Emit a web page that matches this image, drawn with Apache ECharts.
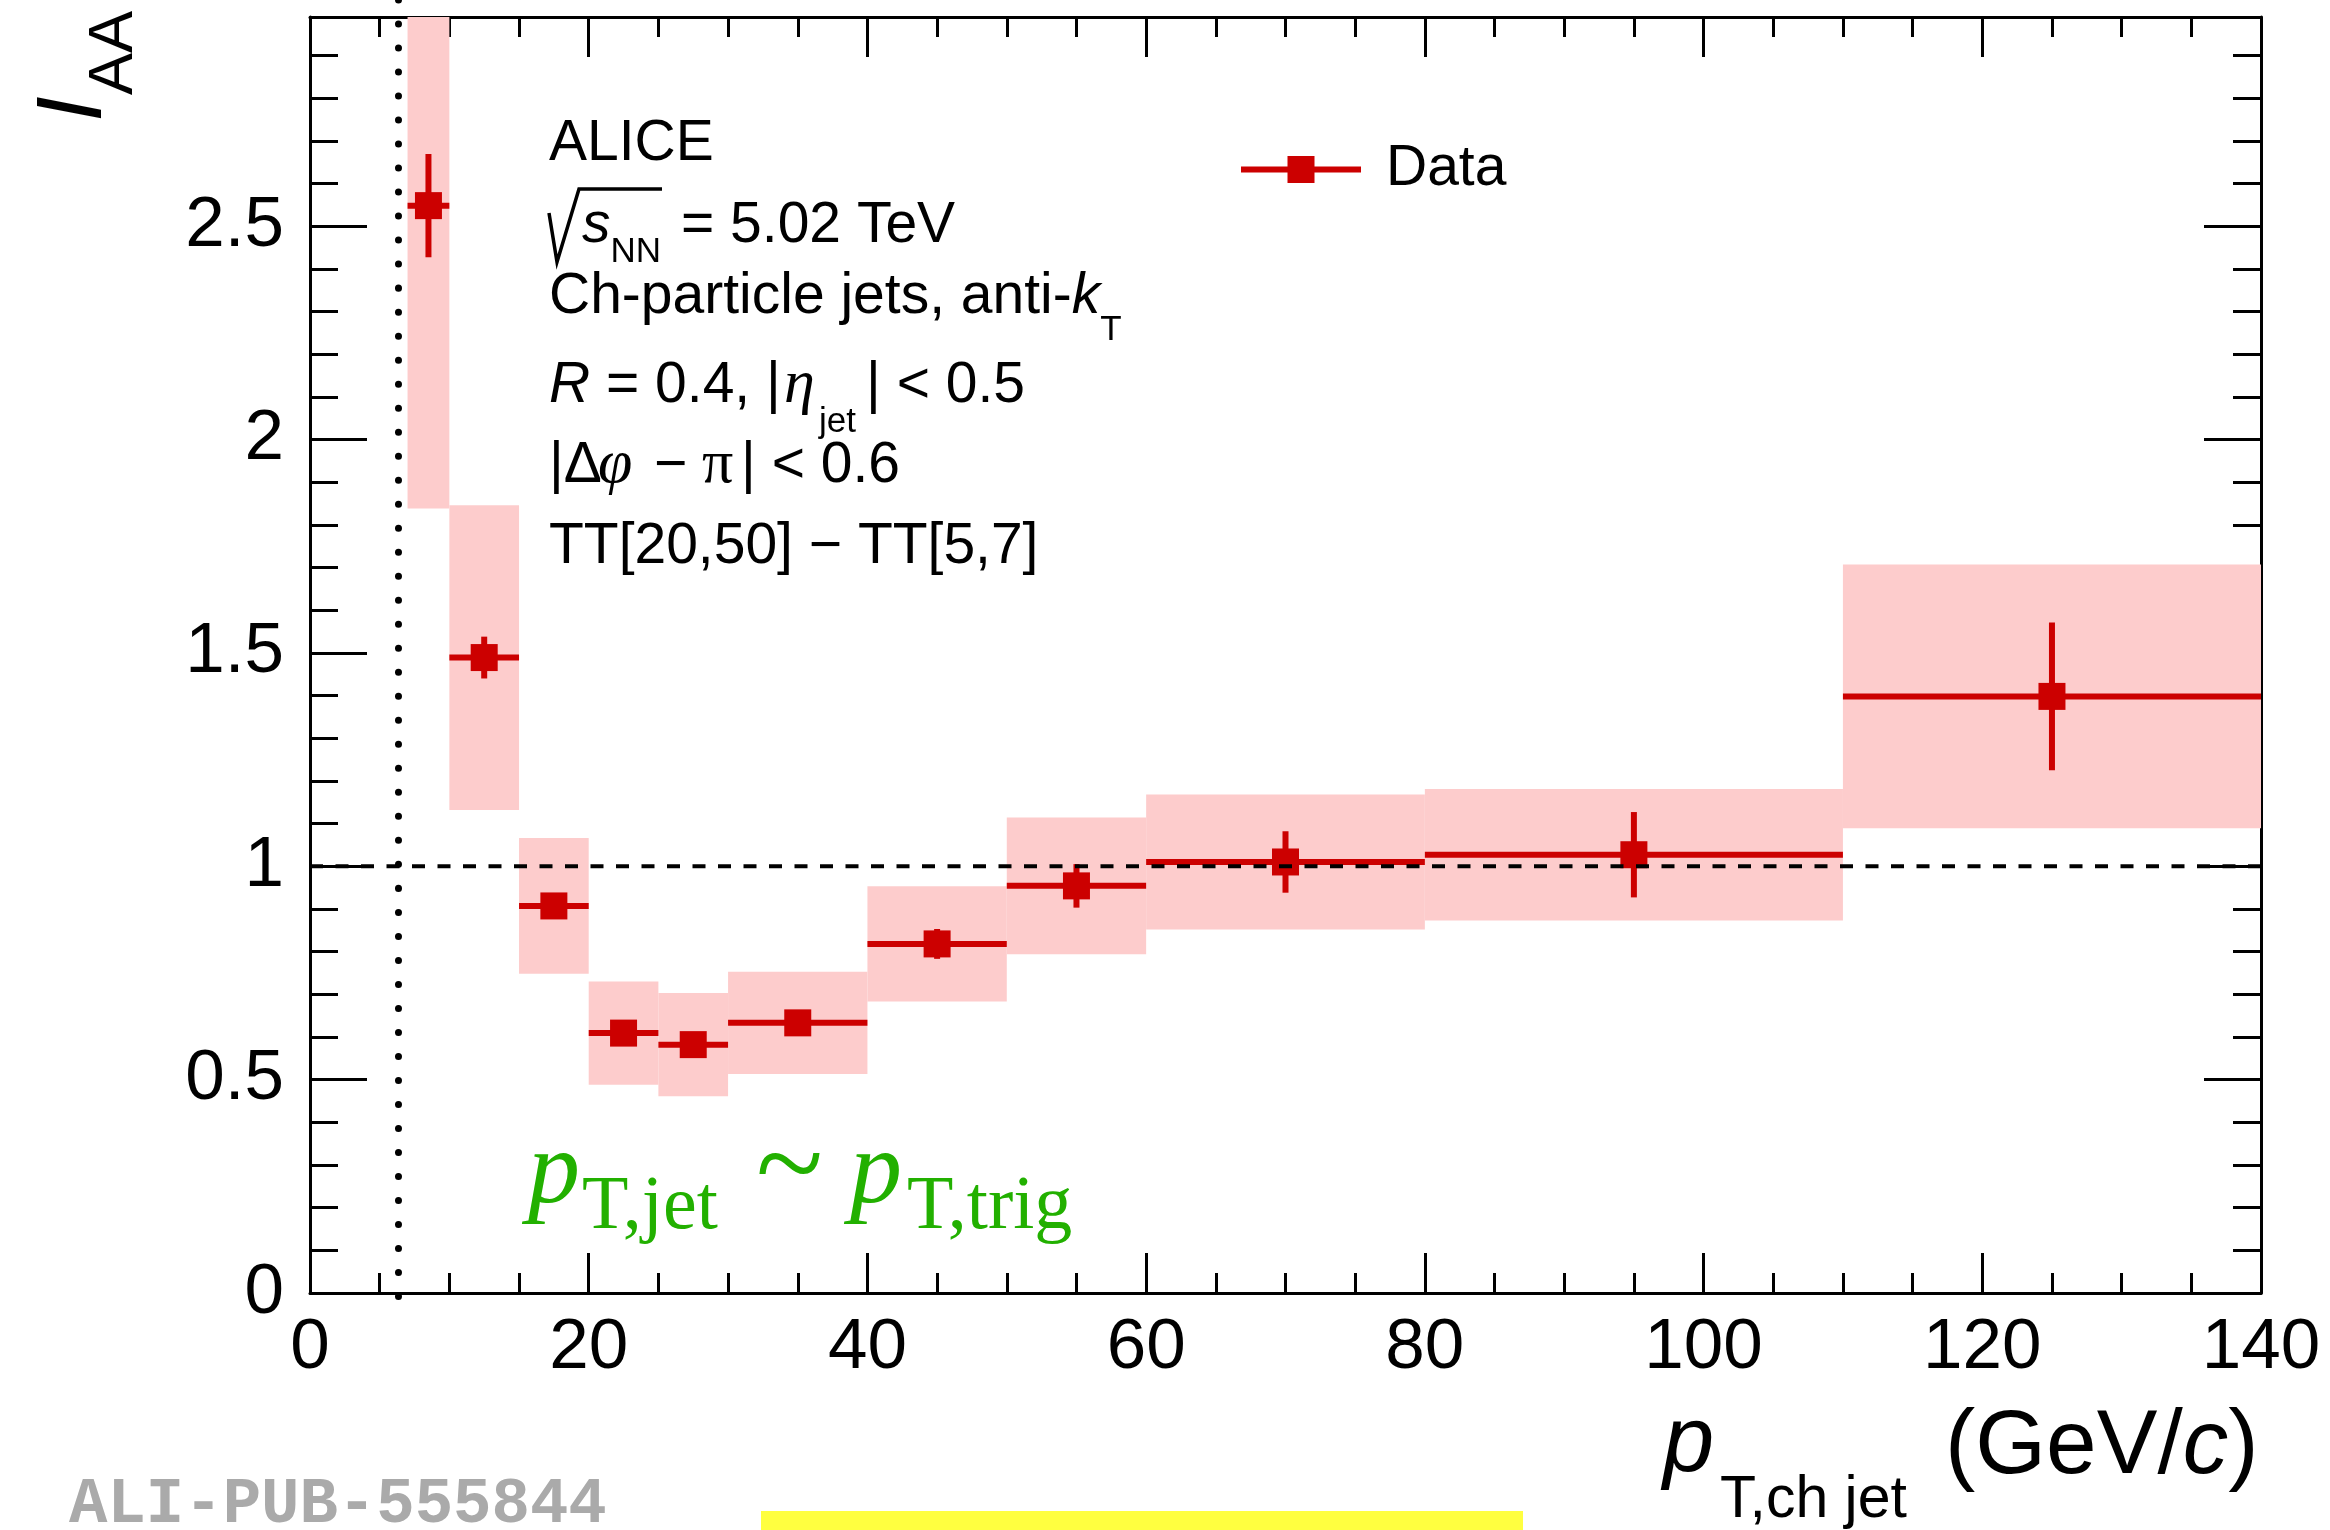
<!DOCTYPE html>
<html>
<head>
<meta charset="utf-8">
<script src="https://cdn.jsdelivr.net/npm/echarts@6/dist/echarts.min.js"></script>
<style>
  html, body { margin: 0; padding: 0; background: #fff; }
  #chart { width: 2330px; height: 1530px; }
</style>
</head>
<body>
<div id="chart"></div>
<script>
// jet pT bins (GeV/c) and I_AA values
const binLo   = [7, 10, 15, 20, 25, 30, 40, 50, 60, 80, 110];
const binHi   = [10, 15, 20, 25, 30, 40, 50, 60, 80, 110, 140];
const ptJet   = [8.5, 12.5, 17.5, 22.5, 27.5, 35, 45, 55, 70, 95, 125];
const iaa     = [2.548, 1.489, 0.907, 0.609, 0.582, 0.633, 0.818, 0.954, 1.010, 1.027, 1.398];
const statErr = [0.121, 0.049, 0.020, 0.020, 0.020, 0.020, 0.035, 0.051, 0.072, 0.100, 0.173];
const sysErr  = [0.710, 0.357, 0.159, 0.121, 0.121, 0.120, 0.135, 0.160, 0.158, 0.154, 0.309];

// reference line I_AA = 1 and the dotted cut line
const refX = [0, 140];
const refY = [1, 1];
const cutX = [6.35];

const xRange = [0, 140];
const yRange = [0, 2.99];

const RED = '#cc0000';
const PINK = '#fdcccc';
const GREEN = '#22b000';
const SANS = '"Liberation Sans", Arial, sans-serif';
const SERIF = '"Liberation Serif", "Times New Roman", serif';

const points = ptJet.map((x, i) => [x, iaa[i], binLo[i], binHi[i], statErr[i], sysErr[i]]);

// small helper to lay out latex-ish text pieces on a baseline
const mctx = document.createElement('canvas').getContext('2d');
function texRun(x0, base, parts) {
  let x = x0;
  return parts.map(p => {
    if (p.x !== undefined) x = p.x;
    const size = p.s || 57;
    const fam = p.f || SANS;
    const font = (p.i ? 'italic ' : '') + (p.b ? 'bold ' : '') + size + 'px ' + fam;
    mctx.font = font;
    mctx.textBaseline = 'middle';
    const off = mctx.measureText('H').actualBoundingBoxDescent;
    const el = {
      type: 'text', x: x, y: base + (p.dy || 0) - off, silent: true,
      style: {
        text: p.t, fontSize: size, fontFamily: fam,
        fontStyle: p.i ? 'italic' : 'normal', fontWeight: p.b ? 'bold' : 'normal',
        fill: p.c || '#000', align: 'left', verticalAlign: 'middle'
      }
    };
    x += mctx.measureText(p.t).width;
    return el;
  });
}

const chart = echarts.init(document.getElementById('chart'));

const tickStyle = { color: '#000', width: 3 };
function xAx(pos) {
  return {
    type: 'value', position: pos, min: xRange[0], max: xRange[1], interval: 20,
    axisLine: { show: true, onZero: false, lineStyle: tickStyle },
    axisTick: { show: true, inside: true, length: 40, lineStyle: tickStyle },
    minorTick: { show: true, splitNumber: 4, length: 20, lineStyle: tickStyle },
    splitLine: { show: false }, minorSplitLine: { show: false },
    axisLabel: pos === 'bottom'
      ? { show: true, fontSize: 71, fontFamily: SANS, color: '#000', margin: 20 }
      : { show: false }
  };
}
function yAx(pos) {
  return {
    type: 'value', position: pos, min: yRange[0], max: yRange[1], interval: 0.5,
    axisLine: { show: true, onZero: false, lineStyle: tickStyle },
    axisTick: { show: true, inside: true, length: 57, lineStyle: tickStyle },
    minorTick: { show: true, splitNumber: 5, length: 28, lineStyle: tickStyle },
    splitLine: { show: false }, minorSplitLine: { show: false },
    axisLabel: pos === 'left'
      ? { show: true, fontSize: 71, fontFamily: SANS, color: '#000', margin: 26,
          showMaxLabel: false, formatter: v => (v > 2.9 ? '' : String(v)) }
      : { show: false }
  };
}

const ICON = 'path://M0,10.5H46.5V0H73.5V10.5H120V16.5H73.5V27H46.5V16.5H0Z';

const graphics = [].concat(
  texRun(549, 160, [{ t: 'ALICE' }]),
  [{
    type: 'polyline', silent: true,
    shape: { points: [[549, 213], [557, 262], [579, 189], [662, 189]] },
    style: { stroke: '#000', lineWidth: 3.5, fill: null }
  }],
  texRun(582, 242, [{ t: 's', i: true }, { t: 'NN', s: 35, dy: 20 }, { t: '= 5.02 TeV', x: 681 }]),
  texRun(549, 313, [{ t: 'Ch-particle jets, anti-' }, { t: 'k', i: true }, { t: 'T', s: 35, dy: 27 }]),
  texRun(549, 402, [{ t: 'R', i: true }, { t: ' = 0.4, |' }, { t: 'η', i: true, f: SERIF, s: 62, x: 784 },
                    { t: 'jet', s: 35, dy: 30, x: 819 }, { t: '| < 0.5', x: 866 }]),
  texRun(549, 482, [{ t: '|Δ' }, { t: 'φ', i: true, f: SERIF, s: 62, x: 598 }, { t: '−', x: 654 },
                    { t: 'π', f: SERIF, s: 62, x: 702 }, { t: '| < 0.6', x: 741 }]),
  texRun(549, 563, [{ t: 'TT[20,50] − TT[5,7]' }]),
  texRun(528, 1202, [
    { t: 'p', i: true, f: SERIF, s: 104, c: GREEN },
    { t: 'T,jet', f: SERIF, s: 76, dy: 26, c: GREEN, x: 582 },
    { t: '~', f: SERIF, s: 124, c: GREEN, x: 756, dy: 4 },
    { t: 'p', i: true, f: SERIF, s: 104, c: GREEN, x: 850 },
    { t: 'T,trig', f: SERIF, s: 76, dy: 26, c: GREEN, x: 907 }
  ]),
  texRun(1663, 1471, [
    { t: 'p', i: true, s: 92 },
    { t: 'T,ch jet', s: 59, dy: 46, x: 1720 },
    { t: '(GeV/', s: 91, x: 1945, dy: 2 },
    { t: 'c', i: true, s: 91, dy: 2 },
    { t: ')', s: 91, dy: 2 }
  ]),
  [{
    type: 'group', x: 101, y: 122, rotation: Math.PI / 2,
    children: texRun(0, 0, [{ t: 'I', i: true, s: 93 }, { t: 'AA', s: 63, dy: 31, x: 27 }])
  }],
  texRun(69, 1522, [{ t: 'ALI-PUB-555844', f: '"Liberation Mono", "DejaVu Sans Mono", monospace', s: 64, b: true, c: '#aaaaaa' }]),
  [{ type: 'rect', silent: true, shape: { x: 761, y: 1511, width: 762, height: 19 }, style: { fill: '#ffff40' } }]
);

const option = {
  animation: false,
  backgroundColor: '#fff',
  grid: { left: 310, right: 69, top: 17, bottom: 237, containLabel: false, outerBoundsMode: 'none' },
  xAxis: [xAx('bottom'), xAx('top')],
  yAxis: [yAx('left'), yAx('right')],
  legend: {
    data: [{ name: 'Data', icon: ICON }],
    left: 1241, top: 141, padding: 0,
    itemWidth: 120, itemHeight: 27, selectedMode: false,
    itemStyle: { color: RED, borderWidth: 0 },
    formatter: '{a|Data}',
    textStyle: {
      fontSize: 57, fontFamily: SANS, color: '#000',
      rich: { a: { fontSize: 57, fontFamily: SANS, color: '#000', padding: [0, 0, 0, 20] } }
    }
  },
  series: [
    {
      // systematic uncertainty boxes
      type: 'custom', name: 'sys', xAxisIndex: 0, yAxisIndex: 0, clip: true, z: 1, silent: true,
      data: points,
      renderItem: (params, api) => {
        const a = api.coord([api.value(2), api.value(1) + api.value(5)]);
        const b = api.coord([api.value(3), api.value(1) - api.value(5)]);
        return {
          type: 'rect',
          shape: { x: a[0], y: a[1], width: b[0] - a[0], height: b[1] - a[1] },
          style: { fill: PINK }
        };
      }
    },
    {
      // data points with bin width and statistical errors
      type: 'custom', name: 'Data', xAxisIndex: 0, yAxisIndex: 0, clip: true, z: 3, silent: true,
      itemStyle: { color: RED },
      data: points,
      renderItem: (params, api) => {
        const c = api.coord([api.value(0), api.value(1)]);
        const l = api.coord([api.value(2), api.value(1)]);
        const r = api.coord([api.value(3), api.value(1)]);
        const t = api.coord([api.value(0), api.value(1) + api.value(4)]);
        const d = api.coord([api.value(0), api.value(1) - api.value(4)]);
        const ls = { stroke: RED, lineWidth: 6 };
        return {
          type: 'group',
          children: [
            { type: 'line', shape: { x1: l[0], y1: l[1], x2: r[0], y2: r[1] }, style: ls },
            { type: 'line', shape: { x1: t[0], y1: t[1], x2: d[0], y2: d[1] }, style: ls },
            { type: 'rect', shape: { x: c[0] - 13.5, y: c[1] - 13.5, width: 27, height: 27 }, style: { fill: RED } }
          ]
        };
      }
    },
    {
      type: 'line', name: 'ref', xAxisIndex: 0, yAxisIndex: 0, z: 5, silent: true,
      symbol: 'none',
      data: refX.map((x, i) => [x, refY[i]]),
      lineStyle: { color: '#000', width: 4, type: [13, 12.5] }
    },
    {
      type: 'custom', name: 'cut', xAxisIndex: 0, yAxisIndex: 0, clip: false, z: 5, silent: true,
      data: cutX.map(x => [x, 0]),
      renderItem: (params, api) => {
        const p = api.coord([api.value(0), 0]);
        const cs = params.coordSys;
        return {
          type: 'line',
          shape: { x1: p[0], y1: cs.y - 17, x2: p[0], y2: cs.y + cs.height + 27 },
          style: { stroke: '#000', lineWidth: 7, lineDash: [0.01, 24], lineCap: 'round' }
        };
      }
    }
  ],
  graphic: graphics
};

chart.setOption(option);
</script>
</body>
</html>
